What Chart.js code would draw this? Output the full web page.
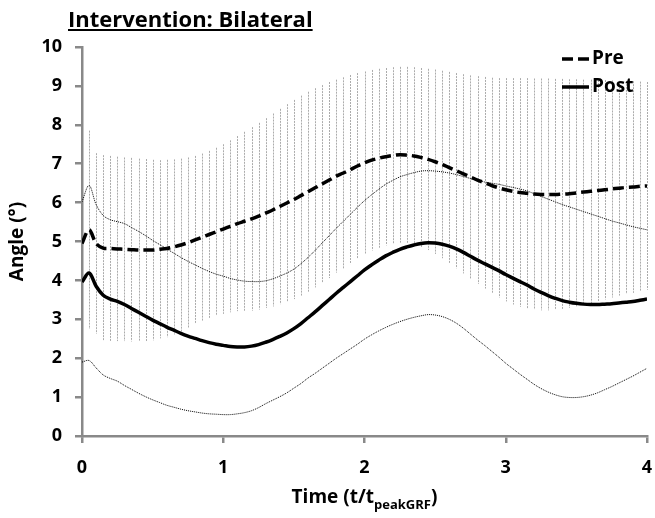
<!DOCTYPE html>
<html>
<head>
<meta charset="utf-8">
<script src="https://cdn.jsdelivr.net/npm/chart.js@4.4.1/dist/chart.umd.min.js"></script>
<style>
  body { margin: 0; background: #fff; }
  canvas { display: block; }
</style>
</head>
<body>
<canvas id="angle-chart" width="655" height="518"></canvas>
<script>
// normalised time, t / t_peakGRF
const times = [
    0.00, 0.05, 0.10, 0.15, 0.20, 0.25, 0.30, 0.35, 0.40, 0.45,
    0.50, 0.55, 0.60, 0.65, 0.70, 0.75, 0.80, 0.85, 0.90, 0.95,
    1.00, 1.05, 1.10, 1.15, 1.20, 1.25, 1.30, 1.35, 1.40, 1.45,
    1.50, 1.55, 1.60, 1.65, 1.70, 1.75, 1.80, 1.85, 1.90, 1.95,
    2.00, 2.05, 2.10, 2.15, 2.20, 2.25, 2.30, 2.35, 2.40, 2.45,
    2.50, 2.55, 2.60, 2.65, 2.70, 2.75, 2.80, 2.85, 2.90, 2.95,
    3.00, 3.05, 3.10, 3.15, 3.20, 3.25, 3.30, 3.35, 3.40, 3.45,
    3.50, 3.55, 3.60, 3.65, 3.70, 3.75, 3.80, 3.85, 3.90, 3.95,
    4.00
]

const preMean = [
    4.95, 5.30, 4.95, 4.83, 4.82, 4.81, 4.80, 4.79, 4.78, 4.78,
    4.78, 4.80, 4.82, 4.86, 4.91, 4.97, 5.04, 5.11, 5.18, 5.25,
    5.32, 5.39, 5.46, 5.52, 5.58, 5.65, 5.73, 5.81, 5.90, 5.99,
    6.08, 6.18, 6.28, 6.38, 6.48, 6.58, 6.68, 6.76, 6.85, 6.94,
    7.02, 7.09, 7.14, 7.18, 7.21, 7.23, 7.22, 7.20, 7.16, 7.11,
    7.05, 6.98, 6.90, 6.82, 6.74, 6.66, 6.58, 6.51, 6.44, 6.38,
    6.33, 6.29, 6.26, 6.24, 6.22, 6.21, 6.21, 6.21, 6.22, 6.23,
    6.25, 6.27, 6.29, 6.31, 6.33, 6.35, 6.37, 6.39, 6.40, 6.42,
    6.43
]

const preSD = [
    2.70, 2.55, 2.32, 2.39, 2.38, 2.37, 2.36, 2.36, 2.35, 2.34,
    2.32, 2.29, 2.28, 2.25, 2.22, 2.19, 2.16, 2.15, 2.15, 2.16,
    2.18, 2.21, 2.25, 2.30, 2.36, 2.40, 2.44, 2.48, 2.51, 2.54,
    2.56, 2.57, 2.57, 2.56, 2.54, 2.52, 2.48, 2.46, 2.43, 2.39,
    2.35, 2.32, 2.30, 2.28, 2.27, 2.26, 2.27, 2.28, 2.30, 2.33,
    2.37, 2.41, 2.46, 2.51, 2.56, 2.61, 2.67, 2.72, 2.77, 2.82,
    2.87, 2.91, 2.94, 2.96, 2.97, 2.98, 2.98, 2.97, 2.96, 2.94,
    2.92, 2.89, 2.87, 2.84, 2.82, 2.79, 2.76, 2.74, 2.72, 2.69,
    2.67
]

const postMean = [
    3.96, 4.19, 3.85, 3.62, 3.52, 3.46, 3.38, 3.28, 3.18, 3.08,
    2.98, 2.89, 2.80, 2.72, 2.64, 2.57, 2.51, 2.45, 2.40, 2.36,
    2.33, 2.30, 2.29, 2.29, 2.31, 2.35, 2.41, 2.48, 2.56, 2.65,
    2.76, 2.89, 3.04, 3.19, 3.35, 3.51, 3.67, 3.82, 3.97, 4.12,
    4.27, 4.40, 4.52, 4.63, 4.72, 4.80, 4.86, 4.91, 4.95, 4.97,
    4.96, 4.93, 4.88, 4.81, 4.72, 4.62, 4.52, 4.43, 4.34, 4.25,
    4.15, 4.06, 3.97, 3.88, 3.78, 3.69, 3.61, 3.54, 3.48, 3.44,
    3.41, 3.39, 3.38, 3.38, 3.39, 3.40, 3.42, 3.44, 3.46, 3.49,
    3.52
]

const postSD = [
    2.06, 2.25, 2.10, 2.05, 2.04, 2.05, 2.08, 2.08, 2.08, 2.07,
    2.05, 2.03, 2.01, 1.98, 1.95, 1.92, 1.89, 1.86, 1.83, 1.80,
    1.78, 1.75, 1.72, 1.69, 1.66, 1.62, 1.58, 1.56, 1.55, 1.54,
    1.53, 1.54, 1.55, 1.58, 1.61, 1.64, 1.67, 1.70, 1.73, 1.76,
    1.78, 1.80, 1.82, 1.84, 1.85, 1.86, 1.86, 1.86, 1.86, 1.85,
    1.85, 1.86, 1.88, 1.91, 1.95, 2.00, 2.05, 2.10, 2.16, 2.22,
    2.28, 2.33, 2.38, 2.42, 2.45, 2.47, 2.48, 2.48, 2.47, 2.45,
    2.42, 2.38, 2.33, 2.27, 2.20, 2.13, 2.06, 1.99, 1.92, 1.85,
    1.78
]

const FONT = '"Open Sans", "Noto Sans", sans-serif'
const AXIS_GREY = '#898989'

function points(values) {
    return times.map((t, i) => ({ x: t, y: values[i] }))
}

// Pre SD drawn as dotted vertical error bars behind the curves
const preErrorBars = {
    id: 'preErrorBars',
    beforeDatasetsDraw(chart) {
        const { ctx, chartArea, scales } = chart
        ctx.save()
        ctx.beginPath()
        ctx.rect(chartArea.left + 2, chartArea.top - 2, chartArea.width + 2, chartArea.height)
        ctx.clip()
        ctx.strokeStyle = '#ababab'
        ctx.lineWidth = 1
        ctx.setLineDash([2, 1])
        times.forEach((t, i) => {
            const x = Math.round(scales.x.getPixelForValue(t)) + 0.5
            ctx.beginPath()
            ctx.moveTo(x, scales.y.getPixelForValue(preMean[i] + preSD[i]))
            ctx.lineTo(x, scales.y.getPixelForValue(preMean[i] - preSD[i]))
            ctx.stroke()
        })
        ctx.restore()
    }
}

// title, axis titles and legend
const labels = {
    id: 'labels',
    afterDraw(chart) {
        const { ctx, chartArea } = chart
        ctx.save()
        ctx.fillStyle = '#000'
        ctx.strokeStyle = '#000'

        // underlined title
        ctx.font = 'bold 22px ' + FONT
        ctx.textAlign = 'left'
        ctx.textBaseline = 'alphabetic'
        const title = 'Intervention: Bilateral'
        ctx.fillText(title, 68, 27)
        const tw = ctx.measureText(title).width
        ctx.fillRect(68, 29, tw, 2)

        // y title
        ctx.font = 'bold 19px ' + FONT
        ctx.save()
        ctx.translate(23, (chartArea.top + chartArea.bottom) / 2)
        ctx.rotate(-Math.PI / 2)
        ctx.textAlign = 'center'
        ctx.fillText('Angle (°)', 0, 0)
        ctx.restore()

        // x title with subscript
        const main = 'Time (t/t'
        const sub = 'peakGRF'
        const close = ')'
        ctx.font = 'bold 19px ' + FONT
        const w1 = ctx.measureText(main).width
        const w3 = ctx.measureText(close).width
        ctx.font = 'bold 13px ' + FONT
        const w2 = ctx.measureText(sub).width
        let x = (chartArea.left + chartArea.right) / 2 - (w1 + w2 + w3) / 2
        ctx.font = 'bold 19px ' + FONT
        ctx.fillText(main, x, 503)
        x += w1
        ctx.font = 'bold 13px ' + FONT
        ctx.fillText(sub, x, 509)
        x += w2
        ctx.font = 'bold 19px ' + FONT
        ctx.fillText(close, x, 503)

        // legend
        const items = [
            { text: 'Pre', dash: [11, 5], y: 59 },
            { text: 'Post', dash: [], y: 87 }
        ]
        items.forEach(item => {
            ctx.lineWidth = 3.5
            ctx.setLineDash(item.dash)
            ctx.beginPath()
            ctx.moveTo(562, item.y)
            ctx.lineTo(589, item.y)
            ctx.stroke()
            ctx.setLineDash([])
            ctx.font = 'bold 19px ' + FONT
            ctx.textBaseline = 'middle'
            ctx.fillText(item.text, 592, item.y)
        })
        ctx.restore()
    }
}

const tickStyle = {
    stepSize: 1,
    color: '#000',
    font: { family: FONT, size: 18, weight: 'bold' },
    padding: 13
}

const chart = new Chart(document.getElementById('angle-chart'), {
    type: 'line',
    data: {
        datasets: [
            {
                label: 'Post',
                data: points(postMean),
                borderColor: '#000',
                borderWidth: 3.5,
                order: 1
            },
            {
                label: 'Pre',
                data: points(preMean),
                borderColor: '#000',
                borderWidth: 3.5,
                borderDash: [11, 5],
                order: 2
            },
            {
                label: 'Post + SD',
                data: points(postMean.map((m, i) => m + postSD[i])),
                borderColor: '#000',
                borderWidth: 1,
                borderDash: [1, 1],
                order: 3
            },
            {
                label: 'Post - SD',
                data: points(postMean.map((m, i) => m - postSD[i])),
                borderColor: '#000',
                borderWidth: 1,
                borderDash: [1, 1],
                order: 4
            }
        ]
    },
    options: {
        responsive: false,
        animation: false,
        layout: { padding: { top: 47, right: 8 } },
        elements: {
            point: { radius: 0 },
            line: { tension: 0.35, fill: false }
        },
        scales: {
            x: {
                type: 'linear',
                min: 0,
                max: 4,
                ticks: { ...tickStyle, padding: 14 },
                grid: { drawOnChartArea: false, tickLength: 7, color: AXIS_GREY, lineWidth: 2.5 },
                border: { color: AXIS_GREY, width: 2.5 },
                afterFit: s => {
                    s.height = 82
                    s.paddingLeft = 0
                    s.paddingRight = 0
                }
            },
            y: {
                min: 0,
                max: 10,
                ticks: tickStyle,
                grid: { drawOnChartArea: false, tickLength: 7, color: AXIS_GREY, lineWidth: 2.5 },
                border: { color: AXIS_GREY, width: 2.5 },
                afterFit: s => {
                    s.width = 82
                    s.paddingTop = 0
                    s.paddingBottom = 0
                }
            }
        },
        plugins: {
            legend: { display: false },
            tooltip: { enabled: false }
        }
    },
    plugins: [preErrorBars, labels]
})
</script>
</body>
</html>
